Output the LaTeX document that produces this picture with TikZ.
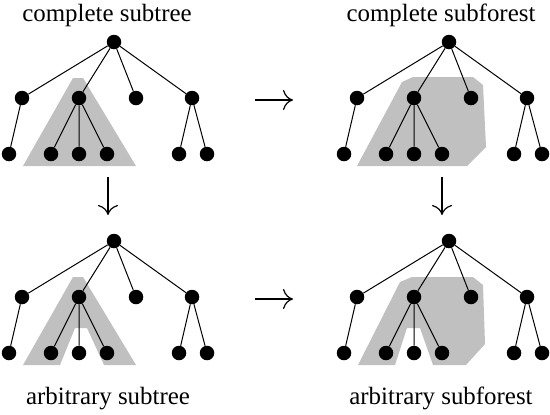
\documentclass[tikz,border=0pt]{standalone}
\usepackage{fontspec}
\setmainfont{Liberation Serif}
\usetikzlibrary{arrows.meta}
\definecolor{shade}{RGB}{192,192,192}
\tikzset{
  vtx/.style={circle, fill=black, inner sep=0pt, minimum size=14.5bp},
  edge/.style={line width=1bp},
  region/.style={fill=shade, draw=none},
  lbl/.style={font=\fontsize{25}{30}\selectfont, anchor=base, inner sep=0pt},
  arr/.style={-{To[length=10bp,width=20bp]}, line width=1.2bp}
}
\newcommand\drawtree[1]{%
  \node[vtx] (#1r) at (114,42) {};
  \node[vtx] (#1a) at (22,98) {};
  \node[vtx] (#1b) at (79,98) {};
  \node[vtx] (#1c) at (136,98) {};
  \node[vtx] (#1d) at (192,98) {};
  \node[vtx] (#1a1) at (9,154) {};
  \node[vtx] (#1b1) at (51,154) {};
  \node[vtx] (#1b2) at (79,154) {};
  \node[vtx] (#1b3) at (107,154) {};
  \node[vtx] (#1d1) at (179,154) {};
  \node[vtx] (#1d2) at (207,154) {};
  \draw[edge] (#1r) -- (#1a) (#1r) -- (#1b) (#1r) -- (#1c) (#1r) -- (#1d)
    (#1a) -- (#1a1) (#1b) -- (#1b1) (#1b) -- (#1b2) (#1b) -- (#1b3)
    (#1d) -- (#1d1) (#1d) -- (#1d2);
}
\begin{document}
\begin{tikzpicture}[x=1bp, y=-1bp]
\useasboundingbox (0,0) rectangle (550,414);
% shaded regions
\fill[region] (23,166) -- (73,78) -- (83,78) -- (136,166) -- cycle;
\begin{scope}[shift={(335,0)}]
\fill[region] (22,166) -- (67,82) -- (78,77) -- (138,77) -- (148,85) -- (151,147) -- (132,166) -- cycle;
\end{scope}
\begin{scope}[shift={(0,199)}]
\fill[region] (23,166) -- (73,78) -- (83,78) -- (136,166) -- (104,166) -- (87,129) -- (75,129) -- (60,166) -- cycle;
\end{scope}
\begin{scope}[shift={(335,199)}]
\fill[region] (23,166) -- (65,83) -- (77,78) -- (138,78) -- (148,86) -- (150,145) -- (131,166) -- (98,166) -- (85,129) -- (72,129) -- (60,166) -- cycle;
\end{scope}
% trees
\drawtree{tl}
\begin{scope}[shift={(335,0)}]\drawtree{tr}\end{scope}
\begin{scope}[shift={(0,199)}]\drawtree{bl}\end{scope}
\begin{scope}[shift={(335,199)}]\drawtree{br}\end{scope}
% labels
\node[lbl] (lab1) at (107,21) {complete subtree};
\node[lbl] (lab2) at (441,21) {complete subforest};
\node[lbl] (lab3) at (108,404) {arbitrary subtree};
\node[lbl] (lab4) at (441,404) {arbitrary subforest};
% arrows
\coordinate (h1s) at (255,100); \coordinate (h1e) at (293,100);
\coordinate (h2s) at (255,299); \coordinate (h2e) at (293,299);
\coordinate (v1s) at (108,177); \coordinate (v1e) at (108,215);
\coordinate (v2s) at (442,177); \coordinate (v2e) at (442,215);
\draw[arr] (h1s) -- (h1e);
\draw[arr] (h2s) -- (h2e);
\draw[arr] (v1s) -- (v1e);
\draw[arr] (v2s) -- (v2e);
\end{tikzpicture}
\end{document}
